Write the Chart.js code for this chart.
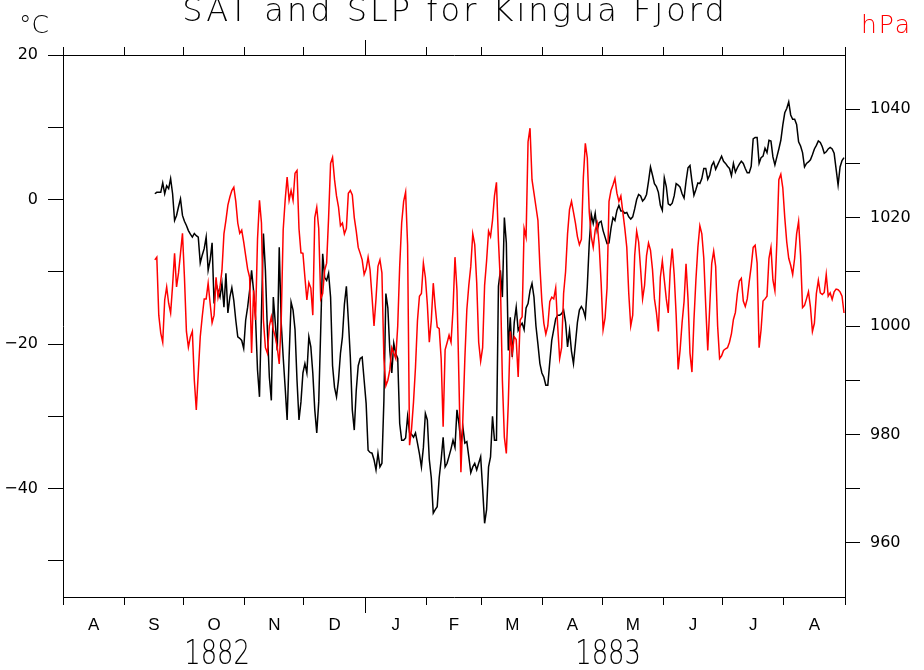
<!DOCTYPE html>
<html><head><meta charset="utf-8">
<script src="https://cdn.jsdelivr.net/npm/chart.js@4.4.1/dist/chart.umd.min.js"></script>
<style>html,body{margin:0;padding:0;background:#fff}canvas{display:block}</style>
</head><body>
<canvas id="c" width="924" height="670" style="width:924px;height:670px"></canvas>
<script>
// ---------------- data ----------------
const titleText = 'SAT and SLP for Kingua Fjord';
const leftUnit = '\u00B0C';
const rightUnit = 'hPa';
const axisStart = '1882-08-01';
const axisEnd = '1883-09-01';
const dataStart = '1882-09-16';
const monthLabels = ['A','S','O','N','D','J','F','M','A','M','J','J','A'];
const yearLabels = ['1882','1883'];
const satTicks = [-50,-40,-30,-20,-10,0,10,20];
const satLabelled = [-40,-20,0,20];
const slpTicks = [960,970,980,990,1000,1010,1020,1030,1040];
const slpLabelled = [960,980,1000,1020,1040];

// daily surface air temperature (deg C), from 1882-09-16
const satValues = [
0.8,1.0,1.0,1.0,2.3,0.8,1.9,1.5,2.9,0.8,-2.9,-2.2,-1.0,0.1,-2.2,-3.0,-3.6,-4.3,-4.8,-5.2,
-4.7,-5.0,-5.2,-8.8,-7.7,-6.8,-5.2,-9.8,-8.4,-6.0,-14.4,-11.6,-12.6,-13.5,-11.6,-14.9,-10.2,-15.7,-13.5,-12.2,
-14.0,-16.7,-19.0,-19.2,-19.5,-20.6,-16.7,-14.9,-12.6,-9.8,-12.6,-16.3,-23.6,-27.3,-15.7,-4.7,-9.8,-18.1,-24.6,-27.8,
-13.5,-17.1,-20.9,-6.6,-17.1,-21.8,-26.0,-30.5,-21.8,-14.2,-15.3,-18.0,-25.0,-30.5,-28.0,-24.0,-22.7,-24.0,-19.0,-20.4,
-24.0,-29.1,-32.3,-28.0,-18.1,-7.5,-10.8,-11.2,-10.2,-13.5,-23.0,-26.0,-27.3,-25.0,-21.3,-19.0,-14.5,-12.0,-16.7,-21.8,
-29.1,-31.9,-26.4,-23.0,-22.0,-21.8,-25.0,-28.2,-34.7,-35.0,-35.1,-36.0,-37.4,-35.1,-37.0,-36.5,-27.8,-13.0,-15.0,-20.9,
-24.0,-19.9,-21.3,-22.0,-31.0,-33.3,-33.3,-33.0,-30.0,-32.3,-32.5,-32.9,-32.3,-33.7,-35.2,-37.0,-34.3,-29.6,-30.5,-36.0,
-38.5,-43.4,-42.9,-42.5,-38.5,-36.0,-32.9,-37.0,-36.5,-35.5,-34.5,-33.3,-34.3,-29.1,-31.0,-33.7,-31.5,-33.7,-33.5,-35.6,
-37.8,-37.0,-36.5,-37.4,-36.5,-35.6,-40.0,-44.8,-42.9,-37.0,-35.6,-30.0,-33.3,-33.3,-12.0,-9.8,-13.5,-2.5,-6.0,-20.9,
-16.3,-21.8,-17.0,-14.9,-18.1,-17.5,-17.1,-18.0,-15.0,-14.4,-12.6,-11.6,-13.5,-17.5,-20.0,-22.7,-24.0,-24.6,-25.7,-25.7,
-22.5,-19.5,-18.0,-16.5,-16.0,-16.0,-15.8,-15.3,-17.0,-20.4,-18.1,-21.0,-22.7,-19.9,-17.0,-15.3,-14.8,-15.3,-16.3,-12.0,
-6.0,-2.0,-3.3,-1.9,-4.3,-3.2,-3.0,-4.3,-5.2,-6.1,-6.0,-4.0,-2.5,-2.9,-1.5,-0.8,-1.6,-1.6,-1.9,-1.8,
-2.4,-2.7,-2.4,-1.3,0.0,0.7,0.5,-0.2,0.1,0.7,2.5,4.5,3.4,2.2,1.8,1.0,-0.8,-1.5,3.0,1.8,
-0.6,-0.8,-0.5,0.5,2.2,2.0,1.7,0.8,0.2,2.5,4.4,4.7,2.5,0.6,1.4,2.3,2.2,2.9,4.3,4.3,
2.8,3.4,4.7,5.2,4.2,4.8,5.4,6.0,5.3,5.0,4.6,4.3,3.3,5.0,3.8,4.4,4.9,5.3,5.0,4.3,
3.7,3.7,4.6,8.4,8.6,8.6,5.0,5.8,6.0,7.1,6.5,8.2,8.1,5.9,4.8,5.9,7.0,8.2,10.3,12.0,
12.6,13.5,11.7,11.1,11.1,10.4,8.0,7.4,6.5,4.5,5.0,5.2,5.5,6.2,7.0,7.5,8.1,7.9,7.3,6.4,
6.6,7.0,7.2,7.0,6.4,4.2,2.0,4.5,5.4,5.8
];

// daily sea level pressure (hPa), from 1882-09-16
const slpValues = [
1012.2,1012.7,1002.0,998.7,997.0,1004.8,1007.2,1004.2,1002.4,1007.5,1013.4,1007.2,1009.8,1013.4,1017.1,1009.0,999.0,996.1,998.0,999.0,
990.0,984.5,991.3,998.0,1001.7,1005.0,1005.0,1007.9,1004.2,1000.6,1002.0,1009.0,1005.3,1007.2,1010.3,1017.0,1019.5,1022.3,1023.8,1025.0,
1025.6,1023.0,1019.0,1017.1,1017.7,1015.5,1013.0,1010.5,1009.0,995.0,1006.6,1001.1,1016.0,1023.2,1019.0,1001.0,996.0,995.0,1000.0,1001.7,
999.3,998.0,996.0,993.0,1001.0,1017.7,1023.2,1027.5,1023.2,1025.0,1023.2,1028.2,1028.7,1018.0,1013.5,1013.4,1009.0,1004.8,1008.0,1007.0,
1002.0,1020.0,1021.9,1018.0,1005.0,1006.0,1010.3,1011.6,1020.0,1030.0,1031.1,1027.0,1024.0,1022.0,1018.5,1019.0,1017.0,1018.0,1024.5,1025.0,
1024.2,1020.0,1017.5,1014.5,1013.4,1012.2,1009.5,1010.5,1012.7,1010.3,1005.3,1000.0,1005.0,1011.0,1012.2,1009.8,994.0,989.0,990.0,991.9,
996.0,995.0,994.0,1000.0,1011.0,1019.0,1023.0,1024.7,1015.0,978.0,981.0,986.0,992.4,1001.0,1005.5,1006.0,1011.6,1009.0,1004.0,997.0,
1001.0,1007.9,1003.5,999.8,999.5,994.0,981.4,995.6,996.9,998.3,997.0,1003.0,1012.7,1006.6,990.0,973.0,983.0,994.0,1003.0,1007.5,
1011.0,1017.0,1015.0,1008.0,997.0,993.5,996.0,1007.5,1012.0,1017.5,1016.5,1019.5,1024.0,1026.5,1015.8,1008.0,990.0,979.5,976.5,985.8,
999.0,995.0,998.0,997.5,990.6,1001.1,1001.7,1018.0,1016.4,1034.0,1036.5,1027.0,1024.5,1022.0,1019.5,1011.0,1004.5,1000.5,998.5,1000.0,
1004.5,1005.3,1005.0,1007.0,1000.0,994.0,996.0,1006.0,1010.0,1017.0,1021.5,1023.0,1021.0,1019.0,1016.5,1015.0,1016.0,1027.4,1033.7,1031.0,
1021.0,1016.5,1014.5,1017.7,1019.0,1015.0,1008.0,999.3,1001.5,1007.0,1023.0,1025.0,1026.0,1027.2,1024.5,1023.0,1024.0,1021.0,1018.0,1014.5,
1006.0,1000.0,1002.0,1013.0,1017.5,1015.5,1010.5,1005.0,1007.5,1013.0,1015.3,1014.0,1010.5,1005.0,1002.5,999.0,1009.0,1012.0,1008.5,1005.0,
1002.4,1010.3,1014.3,1009.5,1002.0,992.0,995.6,1000.6,1004.5,1011.5,1005.0,995.0,991.5,1001.0,1008.5,1014.5,1018.5,1017.0,1012.5,1003.5,
995.5,1003.5,1011.5,1013.8,1011.0,1000.0,994.0,994.5,995.5,995.8,996.0,997.0,998.6,1001.2,1002.5,1006.0,1008.3,1008.8,1004.6,1003.6,
1005.0,1008.2,1011.0,1014.5,1014.9,1011.6,996.0,999.3,1004.6,1005.0,1005.5,1012.5,1014.5,1008.5,1006.5,1015.5,1027.0,1028.0,1025.5,1020.0,
1015.5,1012.5,1011.2,1009.5,1012.5,1017.0,1019.3,1013.0,1003.4,1003.8,1005.0,1006.3,1003.5,999.0,1000.5,1006.0,1008.4,1006.1,1005.8,1006.2,
1009.5,1005.5,1006.1,1004.9,1006.3,1006.8,1006.7,1006.3,1005.5,1002.4
];

// ---------------- derived ----------------
const DAY = 86400000;
const dayOf = s => Math.round((Date.parse(s + 'T00:00:00Z') - Date.parse(axisStart + 'T00:00:00Z')) / DAY);
const totalDays = dayOf(axisEnd);
const startD = new Date(axisStart + 'T00:00:00Z');
const monthStarts = [];
for (let i = 0; i <= monthLabels.length; i++) {
  monthStarts.push(Math.round((Date.UTC(startD.getUTCFullYear(), startD.getUTCMonth() + i, 1) - startD.getTime()) / DAY));
}
const monthMids = monthLabels.map((m, i) => (monthStarts[i] + monthStarts[i + 1]) / 2);
const yearBreak = dayOf(yearLabels[1] + '-01-01');
const yearCenters = [(0 + yearBreak) / 2, (yearBreak + totalDays) / 2];
const d0 = dayOf(dataStart);
const satPts = satValues.map((v, i) => ({x: d0 + i + 0.5, y: v}));
const slpPts = slpValues.map((v, i) => ({x: d0 + i + 0.5, y: v}));

const BLK = '#000';
const tickFont = {family: "'DejaVu Sans', sans-serif", size: 16};
const monthFont = {family: "'Liberation Sans', sans-serif", size: 17};
const fmt = v => v < 0 ? '\u2212' + Math.abs(v) : String(v);
const setTicks = arr => s => { s.ticks = arr.map(v => ({value: v})); };
const fixH = h => s => { s.height = h; };
const fixW = w => s => { s.width = w; };

function markAxis(pos, weight, ticksArr, len, h, border) {
  return {
    type: 'linear', position: pos, min: 0, max: totalDays, weight: weight,
    afterBuildTicks: setTicks(ticksArr), afterFit: fixH(h),
    ticks: {display: false, autoSkip: false},
    grid: {display: true, drawOnChartArea: false, drawTicks: true, tickLength: len, color: BLK, tickColor: BLK, lineWidth: 1},
    border: {display: border, color: BLK, width: 1}
  };
}

const textPlugin = {
  id: 'texts',
  afterDraw(chart) {
    const {ctx, chartArea, scales} = chart;
    const ls = v => { if ('letterSpacing' in ctx) ctx.letterSpacing = v; };
    ctx.save();
    ctx.textBaseline = 'alphabetic';
    ctx.fillStyle = BLK;
    ctx.font = "200 32px 'DejaVu Sans', sans-serif";
    ctx.textAlign = 'center';
    ls('3px');
    ctx.fillText(titleText, (chartArea.left + chartArea.right) / 2 + 1, 21);
    ls('0px');
    ctx.textAlign = 'left';
    ctx.font = "200 25px 'DejaVu Sans', sans-serif";
    ctx.fillText(leftUnit, 19, 33);
    ctx.fillStyle = '#ff0000';
    ls('2px');
    ctx.fillText(rightUnit, 861, 33);
    ls('0px');
    ctx.fillStyle = BLK;
    ctx.font = "200 34px 'DejaVu Sans', sans-serif";
    ctx.textAlign = 'center';
    yearLabels.forEach((y, i) => {
      const cx = scales.x.getPixelForValue(yearCenters[i]);
      ctx.save();
      ctx.translate(cx + 3, 664);
      ctx.scale(0.76, 1);
      ctx.fillText(y, 0, 0);
      ctx.restore();
    });
    ctx.restore();
  }
};

new Chart(document.getElementById('c'), {
  type: 'line',
  data: {
    datasets: [
      {label: 'SLP', data: slpPts, xAxisID: 'x', yAxisID: 'y2', borderColor: '#ff0000', borderWidth: 1.5,
       pointRadius: 0, tension: 0, fill: false},
      {label: 'SAT', data: satPts, xAxisID: 'x', yAxisID: 'y', borderColor: '#000', borderWidth: 1.5,
       pointRadius: 0, tension: 0, fill: false}
    ]
  },
  options: {
    responsive: false, animation: false, devicePixelRatio: 1,
    layout: {padding: 0},
    plugins: {legend: {display: false}, tooltip: {enabled: false}, title: {display: false}},
    scales: {
      x: markAxis('bottom', 0, monthStarts, 8, 0, true),
      xYear: markAxis('bottom', 1, [yearBreak], 16, 0, false),
      xMonth: {
        type: 'linear', position: 'bottom', min: 0, max: totalDays, weight: 2,
        afterBuildTicks: setTicks(monthMids), afterFit: fixH(73),
        ticks: {display: true, autoSkip: false, maxRotation: 0, padding: 18, color: BLK, font: monthFont,
                callback: (v, i) => monthLabels[i]},
        grid: {display: false, drawTicks: false}, border: {display: false}
      },
      xTop: markAxis('top', 0, monthStarts, 8, 0, true),
      xTopYear: markAxis('top', 1, [yearBreak], 15, 55, false),
      y: {
        type: 'linear', position: 'left', min: -55, max: 20,
        afterBuildTicks: setTicks(satTicks), afterFit: fixW(63),
        ticks: {autoSkip: false, padding: 10, color: BLK, font: tickFont,
                callback: v => satLabelled.includes(v) ? fmt(v) : ''},
        grid: {display: true, drawOnChartArea: false, drawTicks: true, tickLength: 15, color: BLK, lineWidth: 1},
        border: {display: true, color: BLK, width: 1}
      },
      y2: {
        type: 'linear', position: 'right', min: 950, max: 1050,
        afterBuildTicks: setTicks(slpTicks), afterFit: fixW(79),
        ticks: {autoSkip: false, padding: 10, color: BLK, font: tickFont,
                callback: v => slpLabelled.includes(v) ? String(v) : ''},
        grid: {display: true, drawOnChartArea: false, drawTicks: true, tickLength: 15, color: BLK, lineWidth: 1},
        border: {display: true, color: BLK, width: 1}
      }
    }
  },
  plugins: [textPlugin]
});
</script>
</body></html>
